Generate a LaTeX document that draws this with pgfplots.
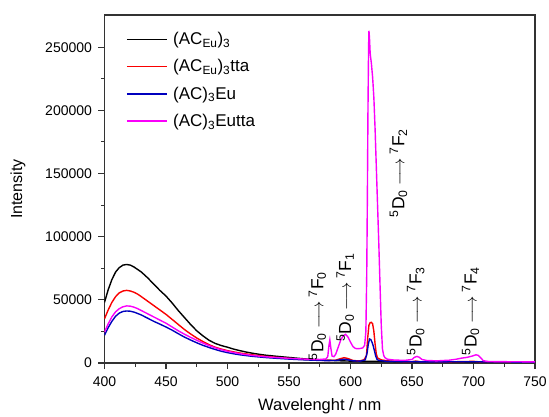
\documentclass[border=0pt]{standalone}
\usepackage{fontspec}
\setmainfont{Liberation Sans}
\usepackage{pgfplots}
\pgfplotsset{compat=1.18}
\definecolor{cblk}{RGB}{0,0,0}
\definecolor{cred}{RGB}{250,0,0}
\definecolor{cblu}{RGB}{0,0,190}
\definecolor{cmag}{RGB}{250,0,250}
\begin{document}
\begin{tikzpicture}
\begin{axis}[
 scale only axis, width=430.5pt, height=348pt,
 xmin=400, xmax=750, ymin=0, ymax=275500,
 xtick={400,450,500,550,600,650,700,750}, minor x tick num=1,
 ytick={0,50000,100000,150000,200000,250000}, minor y tick num=1,
 tick pos=left, tick align=outside,
 major tick length=6pt, minor tick length=3.5pt,
 scaled y ticks=false,
 /pgf/number format/assume math mode=true,
 yticklabel style={/pgf/number format/1000 sep={}, /pgf/number format/fixed, xshift=-3pt},
 xticklabel style={yshift=-4pt},
 ticklabel style={font=\fontsize{14}{16}\selectfont},
 axis line style={line width=1.1pt, black!80},
 every tick/.style={line width=1.1pt, black!80},
 xlabel={Wavelenght / nm}, ylabel={Intensity},
 xlabel style={font=\fontsize{16.5}{18}\selectfont, at={(axis description cs:0.5,-0.1236)}, anchor=center},
 ylabel style={font=\fontsize{16}{18}\selectfont, at={(axis description cs:-0.2009,0.5)}, anchor=center},
 legend style={at={(axis description cs:0.05,0.955)}, anchor=north west, draw=none, fill=none,
   font=\fontsize{17}{20}\selectfont, row sep=10.5pt, inner sep=0pt, nodes={inner sep=1.5pt, anchor=west}},
 legend cell align=left,
 legend image code/.code={\draw[#1, line width=1.5pt] (0pt,0pt) -- (40pt,0pt);},
 every axis plot/.append style={line width=1.4pt},
]
\coordinate (O) at (rel axis cs:0,0);
\addplot[cblk] coordinates {(400,48000)(403,58000)(406,66000)(409,72000)(412,75500)(415,77500)(418,78000)(421,77500)(424,76000)(427,74000)(430,72000)(435,67500)(440,62500)(445,57500)(450,53000)(455,47500)(460,41500)(465,36000)(470,30500)(475,25500)(480,21500)(485,18000)(490,15500)(495,13800)(500,12500)(505,11000)(510,9800)(515,8700)(520,7800)(525,7000)(530,6300)(540,5300)(550,4400)(560,3500)(570,2800)(580,2200)(590,1800)(600,1500)(610,1300)(630,1200)(650,1000)(700,900)(750,700)};
\addlegendentry{\hspace{4pt}(AC\textsubscript{Eu})\textsubscript{3}}
\addplot[cred] coordinates {(400,35000)(403,42000)(406,48000)(409,52500)(412,55500)(415,57000)(418,57500)(421,57000)(424,56000)(427,54500)(430,52500)(435,49000)(440,45500)(445,42000)(450,38500)(455,34500)(460,30500)(465,26500)(470,23000)(475,19800)(480,17000)(485,14500)(490,12500)(495,11000)(500,9800)(505,8800)(510,7900)(520,6500)(530,5300)(540,4400)(550,3600)(560,2900)(570,2400)(580,2000)(588,2200)(592,3500)(595,4200)(598,3500)(602,2000)(607,1600)(611,2500)(613,6000)(614,20000)(615,30000)(616,32000)(617,32200)(618,31000)(619,25000)(620,15000)(621,7000)(622,4000)(625,2500)(630,1700)(640,1200)(650,1000)(653,1500)(657,1000)(680,900)(700,1300)(705,900)(750,600)};
\addlegendentry{\hspace{4pt}(AC\textsubscript{Eu})\textsubscript{3}tta}
\addplot[cblu] coordinates {(400,22000)(403,28000)(406,33000)(409,37000)(412,39500)(415,40800)(418,41200)(421,41000)(424,40300)(427,39200)(430,38000)(435,35500)(440,33000)(445,30800)(450,28500)(455,26000)(460,23200)(465,20500)(470,18200)(475,16000)(480,14000)(485,12300)(490,10700)(495,9300)(500,8200)(505,7300)(510,6500)(520,5300)(530,4400)(540,3700)(550,3100)(560,2600)(570,2200)(580,1900)(588,2000)(592,2600)(595,2900)(598,2500)(602,1700)(608,1500)(612,2500)(613.5,8000)(614.5,15000)(615.5,19000)(616.5,18500)(617.5,16500)(618.5,13500)(619.5,9500)(620.5,5500)(621.5,3000)(623,2000)(630,1300)(650,1000)(653,1200)(657,900)(700,1000)(750,600)};
\addlegendentry{\hspace{4pt}(AC)\textsubscript{3}Eu}
\addplot[cmag] coordinates {(400,24500)(403,31000)(406,36500)(409,40500)(412,43000)(415,44500)(418,45200)(421,45000)(424,44200)(427,43000)(430,41500)(435,39000)(440,36500)(445,34000)(450,31500)(455,28500)(460,25500)(465,22800)(470,20300)(475,18000)(480,15800)(485,13800)(490,12000)(495,10500)(500,9300)(505,8300)(510,7400)(520,6000)(530,5000)(540,4300)(550,3700)(560,3200)(570,2900)(575,2800)(580,3200)(581.5,5000)(582.5,14000)(583.2,18200)(584,12000)(585,5500)(586.5,5000)(588,7000)(590,12500)(592,18000)(594,21500)(596,22700)(598,20500)(600,16500)(602,13000)(604,11500)(606,11300)(608,11500)(610,12000)(611.5,14000)(612.5,25000)(613.2,70000)(613.7,129000)(614.2,200000)(614.7,250000)(615,263000)(615.4,258000)(616,245000)(617,237000)(618,226000)(619,210000)(620,185000)(621,155000)(622,125000)(623,95000)(624,62000)(625,30000)(626,11000)(627,6000)(628,4200)(630,3000)(635,2400)(640,2200)(645,2200)(650,2800)(652,4500)(654,5200)(656,4500)(658,2800)(662,2000)(670,1700)(680,2200)(686,3000)(690,3800)(695,4500)(699,5500)(702,6500)(704,6000)(706,4000)(708,1800)(712,1200)(730,1000)(750,900)};
\addlegendentry{\hspace{4pt}(AC)\textsubscript{3}Eutta}
\tikzset{lab/.style={rotate=90, font=\fontsize{17.5}{20}\selectfont, inner sep=0pt}}
\newcommand{\tr}[1]{\textsuperscript{5}D\textsubscript{0}\hspace{4pt}$\longrightarrow$\hspace{4pt}\textsuperscript{7}F\textsubscript{#1}}
\node[lab] at (axis cs:573,37200) {\tr{0}};
\node[lab] at (axis cs:595.7,51900) {\tr{1}};
\node[lab] at (axis cs:639,150400) {\tr{2}};
\node[lab] at (axis cs:653,41200) {\tr{3}};
\node[lab] at (axis cs:697.6,41200) {\tr{4}};
\end{axis}
\pgfresetboundingbox
\path (O) ++(-104.5pt,-53pt) rectangle ++(549pt,416pt);
\end{tikzpicture}
\end{document}
